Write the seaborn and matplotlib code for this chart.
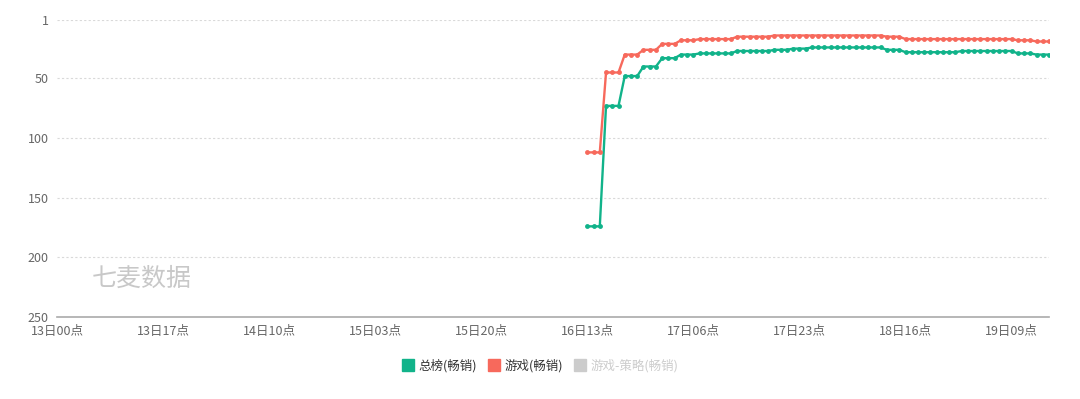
import numpy as np
import pandas as pd
import matplotlib.pyplot as plt
import seaborn as sns
from matplotlib.lines import Line2D

# hourly category axis: 13日00点 .. 19日15点
days = [13, 14, 15, 16, 17, 18, 19]
last_hour = "19日15点"
start_label = "16日13点"

series_names = ["总榜(畅销)", "游戏(畅销)", "游戏-策略(畅销)"]

# rank values from 16日13点 onward (75 hourly points)
overall_rank = [174, 174, 174, 73, 73, 73, 48, 48, 48, 40, 40, 40, 33, 33, 33,
                30, 30, 30, 29, 29, 29, 29, 29, 29, 27, 27, 27, 27, 27, 27,
                26, 26, 26, 25, 25, 25, 24, 24, 24, 24, 24, 24, 24, 24, 24,
                24, 24, 24, 26, 26, 26, 28, 28, 28, 28, 28, 28, 28, 28, 28,
                27, 27, 27, 27, 27, 27, 27, 27, 27, 29, 29, 29, 30, 30, 30]
game_rank = [112, 112, 112, 45, 45, 45, 30, 30, 30, 26, 26, 26, 21, 21, 21,
             18, 18, 18, 17, 17, 17, 17, 17, 17, 15, 15, 15, 15, 15, 15,
             14, 14, 14, 14, 14, 14, 14, 14, 14, 14, 14, 14, 14, 14, 14,
             14, 14, 14, 15, 15, 15, 17, 17, 17, 17, 17, 17, 17, 17, 17,
             17, 17, 17, 17, 17, 17, 17, 17, 17, 18, 18, 18, 19, 19, 19]

y_ticks = [1, 50, 100, 150, 200, 250]

colors = ["#11b38a", "#f7695c", "#cccccc"]

labels = [f"{d}日{h:02d}点" for d in days for h in range(24)]
labels = labels[:labels.index(last_hour) + 1]
start = labels.index(start_label)
xs = np.arange(start, start + len(overall_rank))

df = pd.concat([
    pd.DataFrame({"x": xs, "rank": overall_rank, "series": series_names[0]}),
    pd.DataFrame({"x": xs, "rank": game_rank, "series": series_names[1]}),
])

sns.set_style("white")
plt.rcParams['font.family'] = ['Noto Sans CJK SC', 'DejaVu Sans']

fig = plt.figure(figsize=(10.8, 3.99), dpi=100)
ax = fig.add_axes([57 / 1080, 1 - 317 / 399, 992 / 1080, 297 / 399])

sns.lineplot(data=df, x="x", y="rank", hue="series", palette=colors[:2],
             marker="o", markersize=3.5, markeredgewidth=0, linewidth=1.7,
             legend=False, ax=ax)

ax.set_xlim(0, len(labels) - 1)
ax.set_ylim(250, 1)
ax.set_yticks(y_ticks)
ax.set_yticklabels([str(v) for v in y_ticks])
tick_pos = list(range(0, len(labels), 17))
ax.set_xticks(tick_pos)
ax.set_xticklabels([labels[i] for i in tick_pos])
ax.tick_params(axis='both', length=0, labelsize=9, colors="#666666")
ax.tick_params(axis='x', pad=6)
ax.tick_params(axis='y', pad=6)
ax.set_xlabel("")
ax.set_ylabel("")

for v in y_ticks[:-1]:
    ax.axhline(v, color="#d9d9d9", linestyle=(0, (2, 2)), linewidth=0.8, zorder=0)

for s in ["top", "right", "left"]:
    ax.spines[s].set_visible(False)
ax.spines["bottom"].set_color("#aaaaaa")
ax.spines["bottom"].set_linewidth(1.2)

# watermark
fig.text(142 / 1080, 1 - 279 / 399, "七麦数据", fontsize=18, color="#c8c8c8",
         ha="center", va="center")

handles = [Line2D([], [], marker="s", linestyle="none", markersize=9,
                  markerfacecolor=c, markeredgecolor=c) for c in colors]
fig.legend(handles, series_names, loc="center", bbox_to_anchor=(0.5, 0.083),
           ncol=3, frameon=False, fontsize=9, handlelength=1.0,
           handletextpad=0.4, columnspacing=0.8,
           labelcolor=["#333333", "#333333", "#cccccc"])

fig.savefig("out.png", dpi=100)
